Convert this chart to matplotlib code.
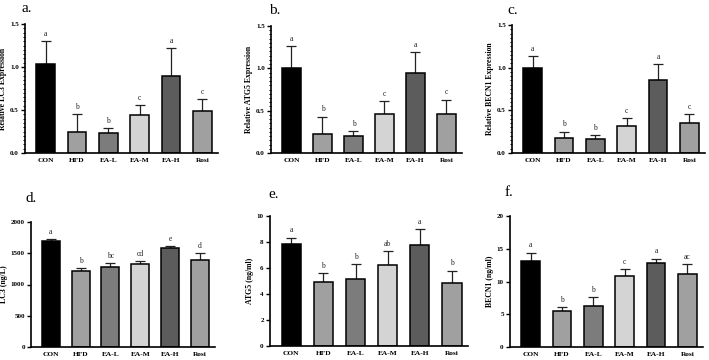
import matplotlib.pyplot as plt
from matplotlib.ticker import MultipleLocator, FormatStrFormatter

groups = ['CON', 'HFD', 'EA-L', 'EA-M', 'EA-H', 'Rosi']
bar_colors = ['#000000', '#a0a0a0', '#7c7c7c', '#d4d4d4', '#5c5c5c', '#a0a0a0']

# panel a-c: relative mRNA expression (mean, upper error)
lc3_rel = [1.03, 0.25, 0.23, 0.44, 0.89, 0.49]
lc3_rel_err = [0.27, 0.20, 0.06, 0.12, 0.33, 0.14]
lc3_rel_sig = ['a', 'b', 'b', 'c', 'a', 'c']

atg5_rel = [1.00, 0.23, 0.20, 0.46, 0.95, 0.46]
atg5_rel_err = [0.26, 0.20, 0.06, 0.15, 0.24, 0.17]
atg5_rel_sig = ['a', 'b', 'b', 'c', 'a', 'c']

becn1_rel = [1.00, 0.18, 0.16, 0.32, 0.86, 0.35]
becn1_rel_err = [0.14, 0.07, 0.05, 0.09, 0.18, 0.11]
becn1_rel_sig = ['a', 'b', 'b', 'c', 'a', 'c']

# panel d-f: ELISA
lc3_elisa = [1690, 1216, 1280, 1323, 1579, 1397]
lc3_elisa_err = [42, 53, 64, 48, 32, 107]
lc3_elisa_sig = ['a', 'b', 'bc', 'cd', 'e', 'd']

atg5_elisa = [7.82, 4.95, 5.13, 6.20, 7.79, 4.87]
atg5_elisa_err = [0.51, 0.64, 1.18, 1.08, 1.21, 0.92]
atg5_elisa_sig = ['a', 'b', 'b', 'ab', 'a', 'b']

becn1_elisa = [13.06, 5.46, 6.28, 10.77, 12.8, 11.12]
becn1_elisa_err = [1.33, 0.61, 1.37, 1.07, 0.67, 1.58]
becn1_elisa_sig = ['a', 'b', 'b', 'c', 'a', 'ac']

serif = ['Liberation Serif', 'DejaVu Serif']
plt.rcParams['font.family'] = serif

fig = plt.figure(figsize=(7.09, 3.6), dpi=100)
W, H = 709, 360


def add_ax(left, right, top, bottom):
    return fig.add_axes([left / W, 1 - bottom / H, (right - left) / W, (bottom - top) / H])


panels = [
    # letter, vals, errs, sig, ylabel, ymax, major, minor, fmt, box(px), letter pos
    ('a.', lc3_rel, lc3_rel_err, lc3_rel_sig, 'Relative LC3 Expression', 1.5, 0.5, 0.05, '%.1f',
     (25, 218, 24, 153), (22, 8)),
    ('b.', atg5_rel, atg5_rel_err, atg5_rel_sig, 'Relative ATG5 Expression', 1.5, 0.5, 0.05, '%.1f',
     (271, 462, 26, 153), (269, 10)),
    ('c.', becn1_rel, becn1_rel_err, becn1_rel_sig, 'Relative BECN1 Expression', 1.5, 0.5, 0.05, '%.1f',
     (512, 705, 25, 153), (507, 11)),
    ('d.', lc3_elisa, lc3_elisa_err, lc3_elisa_sig, 'LC3 (ng/L)', 2000, 500, None, '%d',
     (31, 215, 222, 347), (25, 198)),
    ('e.', atg5_elisa, atg5_elisa_err, atg5_elisa_sig, 'ATG5 (ng/ml)', 10, 2, None, '%d',
     (270, 468, 216, 346), (268, 194)),
    ('f.', becn1_elisa, becn1_elisa_err, becn1_elisa_sig, 'BECN1 (ng/ml)', 20, 5, None, '%d',
     (510, 703, 216, 347), (505, 193)),
]

x = list(range(len(groups)))

for letter, vals, errs, sig, ylabel, ymax, major, minor, fmt, box, lpos in panels:
    ax = add_ax(*box)
    ax.bar(x, vals, width=0.6, color=bar_colors, edgecolor='black', linewidth=1.1, zorder=2)
    ax.errorbar(x, vals, yerr=[[0] * len(vals), errs], fmt='none', ecolor='#222222',
                elinewidth=0.9, capsize=3.5, capthick=0.9, zorder=1)
    for xi, v, e, s in zip(x, vals, errs, sig):
        ax.text(xi, v + e + ymax * 0.025, s, ha='center', va='bottom', fontsize=5.5, color='#222222')
    ax.set_xlim(-0.66, 5.5)
    ax.set_ylim(0, ymax)
    ax.yaxis.set_major_locator(MultipleLocator(major))
    if minor:
        ax.yaxis.set_minor_locator(MultipleLocator(minor))
    ax.yaxis.set_major_formatter(FormatStrFormatter(fmt))
    ax.set_xticks(x)
    ax.set_xticklabels(groups, fontsize=5.3, fontweight='bold')
    for t in ax.get_yticklabels():
        t.set_fontsize(5)
        t.set_fontweight('bold')
    ax.tick_params(axis='x', length=0, pad=3.5)
    ax.tick_params(axis='y', which='major', length=3, width=1, pad=1.5)
    ax.tick_params(axis='y', which='minor', length=1.6, width=0.7)
    ax.set_ylabel(ylabel, fontsize=5.6, fontweight='bold', labelpad=2)
    for sp in ['top', 'right']:
        ax.spines[sp].set_visible(False)
    for sp in ['left', 'bottom']:
        ax.spines[sp].set_linewidth(1.2)
    fig.text(lpos[0] / W, 1 - lpos[1] / H, letter, fontsize=11, ha='left', va='center')

fig.savefig('out.png', dpi=100)
